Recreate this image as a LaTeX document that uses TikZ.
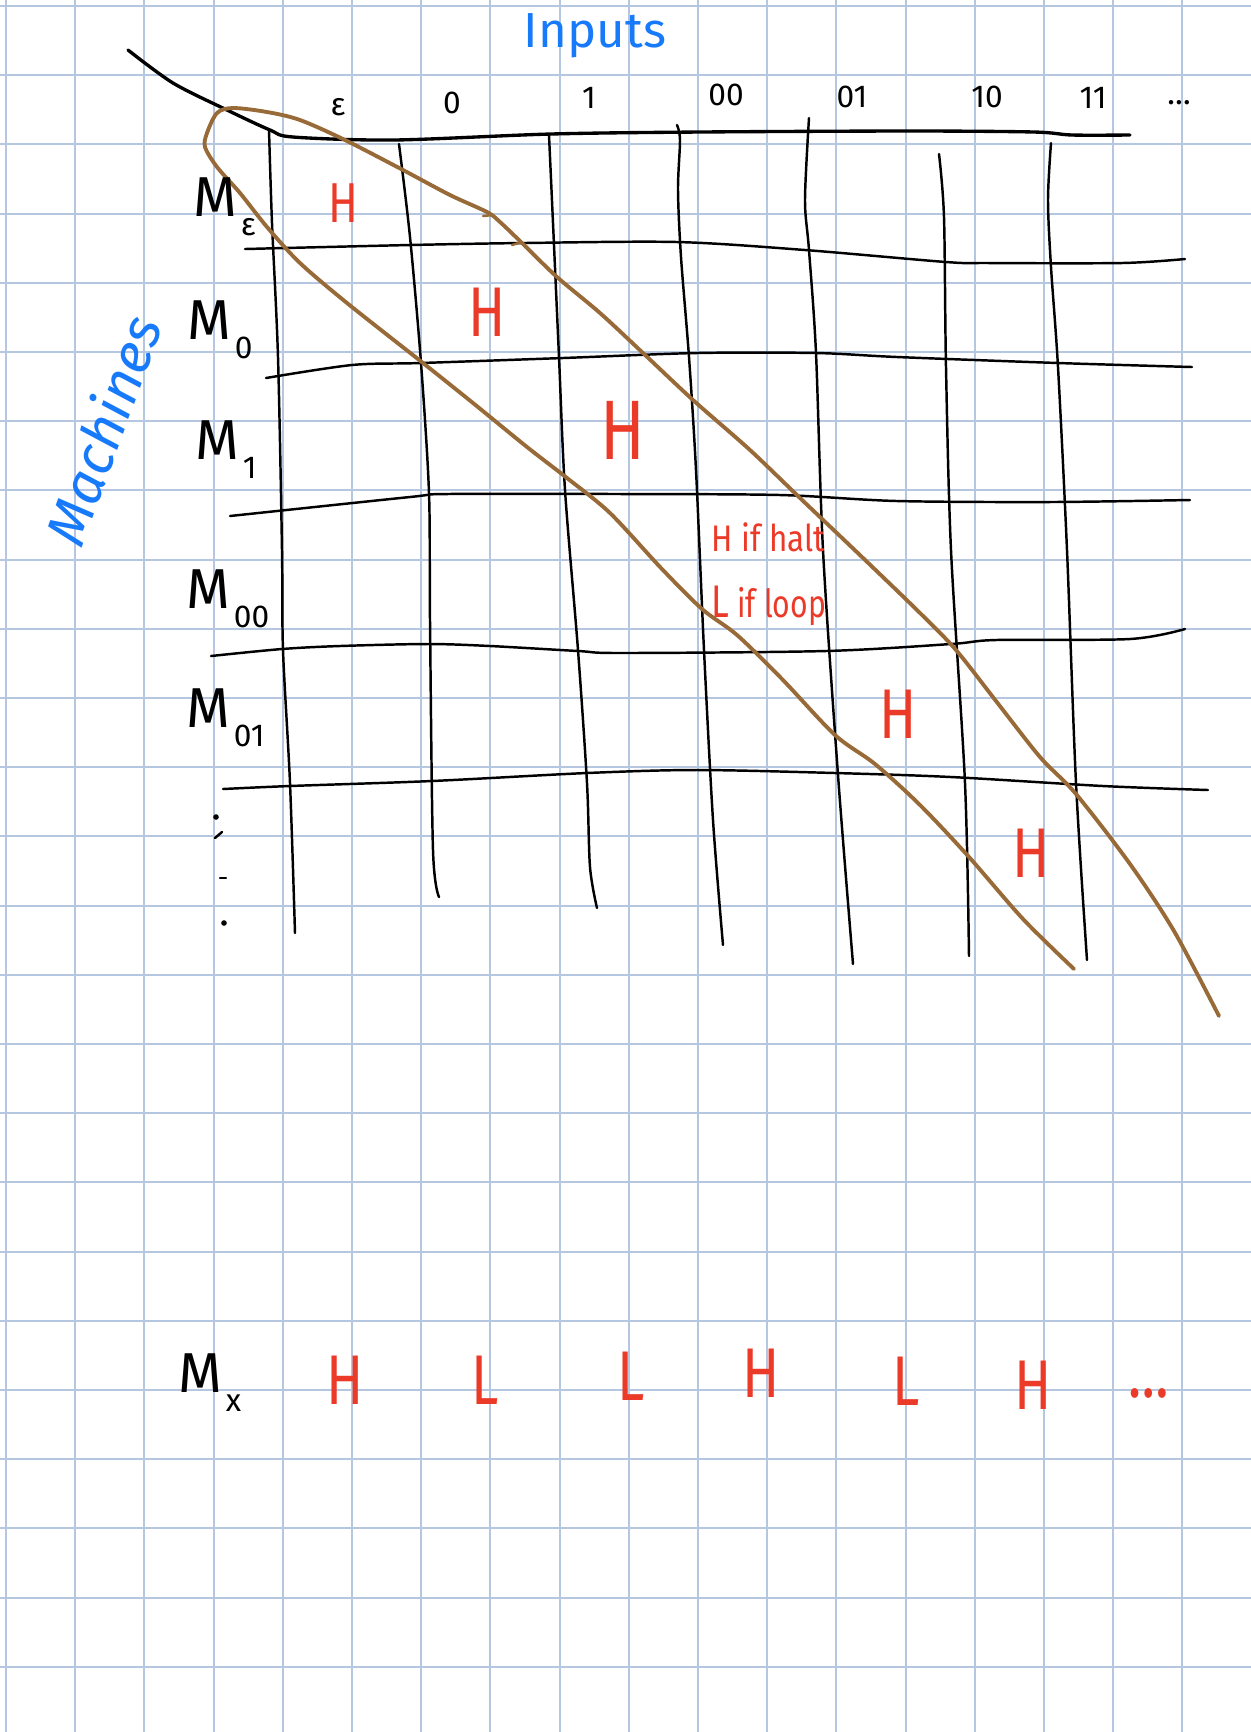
\documentclass[tikz,border=0pt]{standalone}
\usepackage{fontspec}
\setmainfont{Fira Sans}
\definecolor{gridblue}{RGB}{180,198,224}
\definecolor{inkblue}{RGB}{22,122,250}
\definecolor{inkred}{RGB}{236,58,40}
\definecolor{inkbrown}{RGB}{152,106,56}
\def\msub#1{\kern1pt\raisebox{-5.5pt}{\fontsize{9}{9}\selectfont #1}}
\def\squeeze#1{\scalebox{0.78}[1]{#1}}

\begin{document}
\begin{tikzpicture}
[x=0.01cm,y=-0.01cm,every node/.style={inner sep=0pt},
 gridline/.style={gridblue,line width=0.6pt},
 ink/.style={black,line width=0.7pt,line cap=round},
 loopline/.style={inkbrown,line width=1.1pt,line cap=round},
 mlabel/.style={anchor=base west,font=\fontsize{16}{16}\selectfont},
 head/.style={font=\fontsize{9}{9}\selectfont},
 entry/.style={inkred,font=\fontsize{20}{20}\selectfont},
 title/.style={inkblue,font=\fontsize{14}{14}\selectfont}]
\def \gridstep {69.2}
\def \gridzero {6}
\useasboundingbox (0,0) rectangle (1251,1732);
\fill[white] (0,0) rectangle (1251,1732);
\foreach \k in {0,...,18}
  \draw[gridline] ({\gridzero+\gridstep*\k},0) -- ({\gridzero+\gridstep*\k},1732);
\foreach \k in {0,...,24}
  \draw[gridline] (0,{\gridzero+\gridstep*\k}) -- (1251,{\gridzero+\gridstep*\k});

% table
\draw[ink,line width=0.95pt] plot[smooth] coordinates {(128,50) (173,83) (227,110) (270,130) (293,137) (394,140) (551,134) (700,132) (911,131) (1034,132) (1072,135) (1130,135)};
\draw[ink] plot[smooth] coordinates {(245,249) (410,245) (524,243) (677,242) (805,250) (946,262) (988,263) (1122,263) (1185,259)};
\draw[ink] plot[smooth] coordinates {(266,378) (352,365) (421,363) (563,358) (697,353) (816,353) (897,357) (1058,363) (1192,367)};
\draw[ink] plot[smooth] coordinates {(230,516) (410,497) (448,494) (620,494) (780,495) (897,501) (1051,502) (1190,500)};
\draw[ink] plot[smooth] coordinates {(211,656) (282,649) (340,646) (428,644) (490,646) (578,651) (621,653) (826,651) (951,644) (996,640) (1130,639) (1185,629)};
\draw[ink] plot[smooth] coordinates {(223,789) (290,786) (432,781) (587,773) (697,770) (835,773) (951,777) (1103,786) (1208,790)};
\draw[ink] plot[smooth] coordinates {(269,130) (272,223) (278,357) (282,550) (283,650) (290,783) (295,933)};
\draw[ink] plot[smooth] coordinates {(399,144) (410,237) (421,363) (429,493) (430,620) (433,850) (439,897)};
\draw[ink] plot[smooth] coordinates {(549,135) (553,223) (559,357) (565,490) (578,650) (587,783) (590,867) (597,908)};
\draw[ink] plot[smooth] coordinates {(677,125) (680,140) (678,190) (681,257) (689,357) (696,470) (704,650) (713,820) (723,945)};
\draw[ink] plot[smooth] coordinates {(809,118) (805,200) (809,250) (816,353) (823,550) (838,775) (853,964)};
\draw[ink] plot[smooth] coordinates {(939,154) (944,217) (946,367) (951,550) (965,783) (969,956)};
\draw[ink] plot[smooth] coordinates {(1051,143) (1048,200) (1051,267) (1058,367) (1067,550) (1076,783) (1087,960)};

% diagonal loop
\draw[loopline] plot[smooth] coordinates {(1219,1016) (1174,931) (1130,864) (1076,794) (1040,757) (996,701) (956,650) (920,613) (862,557) (800,498) (750,450) (693,400) (643,353) (600,313) (557,277) (522,243) (500,222) (487,212) (450,195) (403,170) (345,140) (300,120) (267,112) (233,108) (217,113) (207,133) (205,147) (217,167) (240,193) (267,227) (300,263) (347,303) (423,363) (473,403) (527,447) (567,478) (610,513) (661,568) (702,609) (737,635) (782,679) (835,735) (875,764) (920,805) (969,857) (1023,919) (1074,969)};
\draw[loopline,line width=0.7pt] (483,216) -- (493,215);
\draw[loopline,line width=0.7pt] (512,245) -- (522,242);

\node[title,anchor=base] (inputs) at (595,47) {Inputs};
\node[title,font=\itshape\fontsize{16}{16}\selectfont,rotate=70] (machines) at (102,430) {Machines};

\foreach \x/\y/\s/\n in {338/107/ε/e, 452/103/0/0, 589/98/1/1, 726/95/00/00, 852/97/01/01, 987/97/10/10, 1093/98/11/11, 1179/103/\dots/dots}
  \node[head] (in\n) at (\x,\y) {\s};

\node[mlabel] (me) at (193,216) {M\msub{ε}};
\node[mlabel] (m0) at (187,339) {M\msub{0}};
\node[mlabel] (m1) at (195,459) {M\msub{1}};
\node[mlabel] (m00) at (186,608) {M\msub{00}};
\node[mlabel] (m01) at (186,727) {M\msub{01}};
\node[mlabel] (mx) at (178,1392) {M\msub{x}};
\fill (216,817) circle[radius=0.8pt];
\draw[ink] (215,838) -- (222,832);
\draw[ink] (220,878) -- (226,878);
\fill (224,923) circle[radius=0.8pt];

\node[entry,font=\fontsize{16}{16}\selectfont] (he) at (343,203) {\squeeze{H}};
\node[entry] (h0) at (487,312) {\squeeze{H}};
\node[entry,font=\fontsize{24}{24}\selectfont] (h1) at (623,430) {\squeeze{H}};
\node[entry,font=\fontsize{10.5}{10.5}\selectfont,anchor=base west] (h00a) at (711,551) {\scalebox{0.85}[1]{H if halt}};
\node[entry,font=\fontsize{11}{11}\selectfont,anchor=base west] (h00b) at (711,617) {\scalebox{0.78}[1]{{\fontsize{13}{13}\selectfont L} if loop}};
\node[entry] (h01) at (898,714) {\squeeze{H}};
\node[entry] (h10) at (1031,853) {\squeeze{H}};

\foreach \x/\y/\s/\n in {345/1380/H/1, 485/1380/L/2, 631/1376/L/3, 761/1373/H/4, 906/1381/L/5, 1033/1385/H/6, 1149/1393/\dots/7}
  \node[entry] (mx\n) at (\x,\y) {\squeeze{\s}};
\end{tikzpicture}
\end{document}
